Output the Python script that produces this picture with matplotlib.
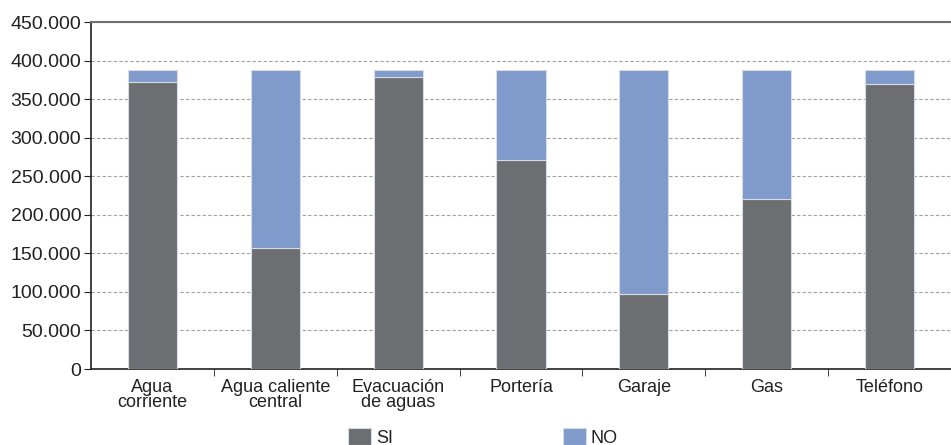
import numpy as np
import matplotlib.pyplot as plt
from matplotlib.ticker import FuncFormatter, FixedLocator

plt.rcParams['font.family'] = ['Liberation Sans', 'DejaVu Sans']

categories = ['Agua\ncorriente', 'Agua caliente\ncentral', 'Evacuación\nde aguas',
              'Portería', 'Garaje', 'Gas', 'Teléfono']
si = [372000, 156500, 379000, 271000, 97500, 220500, 370000]
total = [388000, 388000, 388000, 388000, 388000, 388000, 388000]
no = [t - s for t, s in zip(total, si)]

fig = plt.figure(figsize=(9.51, 4.45), dpi=100)
ax = fig.add_axes([91 / 951, 76 / 445, 860 / 951, 347 / 445])

x = np.arange(len(categories))
ax.bar(x, si, width=0.4, color='#6d6e71', edgecolor='#d6dbe6', linewidth=0.8, label='SI', zorder=3)
ax.bar(x, no, width=0.4, bottom=si, color='#7f9acb', edgecolor='#d6dbe6', linewidth=0.8, label='NO', zorder=3)

ax.set_xlim(-0.5, len(categories) - 0.5)
ax.set_ylim(0, 450000)
ax.set_yticks(np.arange(0, 450001, 50000))
ax.yaxis.set_major_formatter(FuncFormatter(lambda v, p: '0' if v == 0 else f'{int(v):,}'.replace(',', '.')))
ax.yaxis.grid(True, linestyle=(0, (3, 2)), color='#a0a0a0', linewidth=0.8, zorder=0)

ax.set_xticks(x)
ax.set_xticklabels(categories)
ax.xaxis.set_minor_locator(FixedLocator(np.arange(0.5, len(categories) - 1, 1)))
ax.tick_params(axis='x', which='major', length=0, pad=7, labelsize=13, colors='#222222')
ax.tick_params(axis='x', which='minor', length=5, direction='out', color='#222222')
ax.tick_params(axis='y', length=5, direction='out', labelsize=14, colors='#222222', pad=2)
for lbl in ax.get_xticklabels():
    lbl.set_linespacing(0.9)

ax.spines['right'].set_visible(False)
ax.spines['top'].set_color('#707070')
ax.spines['top'].set_linewidth(1.5)
ax.spines['left'].set_color('#222222')
ax.spines['bottom'].set_color('#222222')
ax.spines['left'].set_linewidth(1.2)
ax.spines['bottom'].set_linewidth(1.2)

fig.legend(loc='lower left', bbox_to_anchor=(332 / 951, -0.04), ncol=2, frameon=False,
           fontsize=13, handlelength=1.25, handleheight=1.1, handletextpad=0.3,
           columnspacing=9.4, labelcolor='#222222')

fig.savefig('out.png', dpi=100)
